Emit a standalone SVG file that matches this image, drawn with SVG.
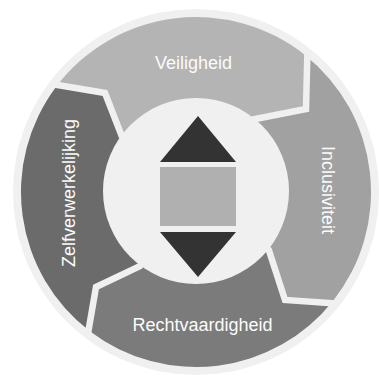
<svg xmlns="http://www.w3.org/2000/svg" width="379" height="377" viewBox="0 0 379 377">
<style>
.gap{fill:none;stroke:#f0f0f0;stroke-width:6.5;stroke-linejoin:miter}
.lbl{font-family:"Liberation Sans",Arial,sans-serif;font-size:18px;fill:#fbfbfb;text-anchor:middle}
.tri{fill:#333333}
</style>
<rect width="379" height="377" fill="#ffffff"/>
<circle cx="196" cy="192" r="183" fill="#f0f0f0"/>
<g id="veiligheid">
<path d="M56.2,86.7 A175,175 0 0 1 304.9,55.0 L306,109 L253.9,119.2 L245.8,129.4 A80,80 0 0 0 132.1,143.9 L121.7,136.0 L105,93 Z" fill="#b4b4b4"/>
<text class="lbl" x="193.5" y="69">Veiligheid</text>
</g>
<g id="inclusiviteit">
<path d="M304.9,55.0 A175,175 0 0 1 333.0,300.9 L285,300 L268.8,249.9 L258.6,241.8 A80,80 0 0 0 245.8,129.4 L253.9,119.2 L306,109 Z" fill="#a1a1a1"/>
<text class="lbl" transform="translate(322,190) rotate(90)">Inclusiviteit</text>
</g>
<g id="rechtvaardigheid">
<path d="M333.0,300.9 A175,175 0 0 1 90.2,331.4 L96,287 L139.8,266.1 L147.6,255.7 A80,80 0 0 0 258.6,241.8 L268.8,249.9 L285,300 Z" fill="#7b7b7b"/>
<text class="lbl" x="202.5" y="331">Rechtvaardigheid</text>
</g>
<g id="zelfverwerkelijking">
<path d="M90.2,331.4 A175,175 0 0 1 56.2,86.7 L105,93 L121.7,136.0 L132.1,143.9 A80,80 0 0 0 147.6,255.7 L139.8,266.1 L96,287 Z" fill="#6b6b6b"/>
<text class="lbl" transform="translate(75,193) rotate(-90)">Zelfverwerkelijking</text>
</g>
<g id="connectors">
<polyline class="gap" points="53.1,84.3 105,93 121.7,136.0 132.1,143.9"/>
<polyline class="gap" points="307.4,51.9 306,109 253.9,119.2 245.8,129.4"/>
<polyline class="gap" points="336.1,303.4 285,300 268.8,249.9 258.6,241.8"/>
<polyline class="gap" points="87.8,334.6 96,287 139.8,266.1 147.6,255.7"/>
</g>
<g id="center">
<circle cx="196" cy="191" r="93" fill="#f0f0f0"/>
<polygon class="tri" points="198,116 236,162 160,162"/>
<rect x="160" y="167" width="76" height="59" fill="#b0b0b0"/>
<polygon class="tri" points="160,232 236,232 198,277"/>
</g>
</svg>
